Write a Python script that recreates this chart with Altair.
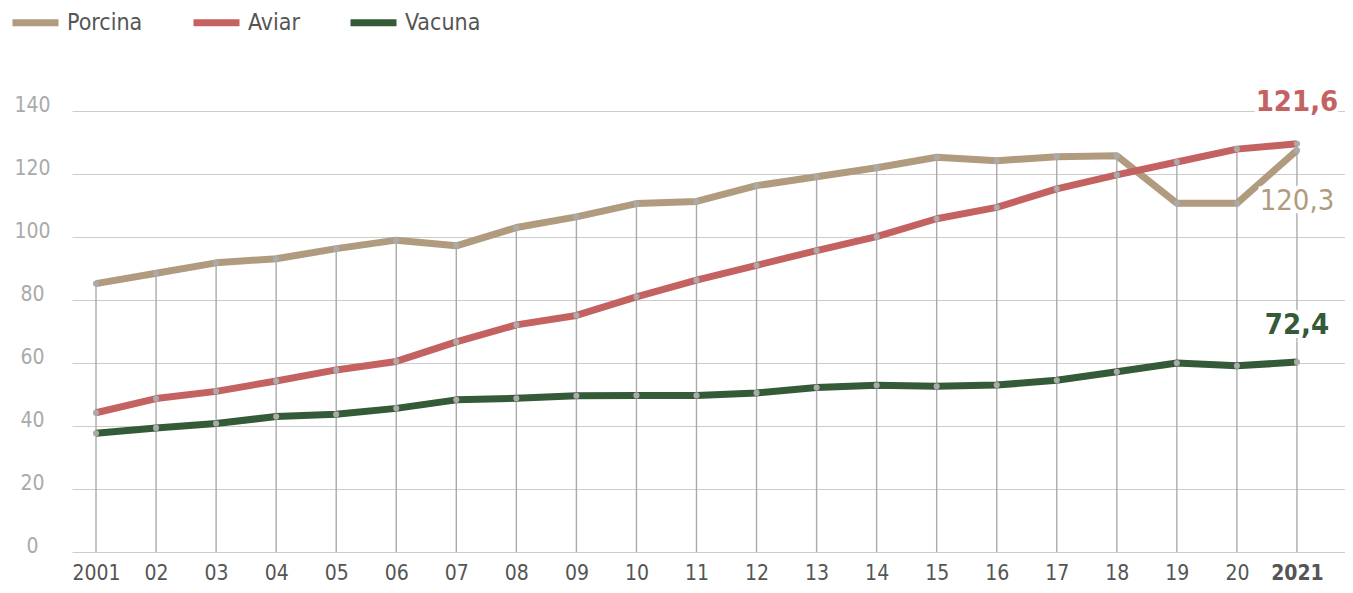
import altair as alt
import pandas as pd

years = list(range(2001, 2022))
year_labels = ["2001", "02", "03", "04", "05", "06", "07", "08", "09", "10",
               "11", "12", "13", "14", "15", "16", "17", "18", "19", "20", "2021"]
series = ["Porcina", "Aviar", "Vacuna"]
colors = ["#b09b7f", "#c46262", "#345a37"]

porcina = [85.2, 88.5, 91.8, 93.1, 96.3, 99.0, 97.2, 103.0, 106.4, 110.6, 111.3,
           116.3, 119.1, 122.0, 125.3, 124.2, 125.5, 125.8, 110.7, 110.7, 127.5]
aviar = [44.2, 48.7, 51.0, 54.3, 57.8, 60.5, 66.7, 72.1, 75.1, 81.0, 86.3,
         91.0, 95.7, 100.1, 105.8, 109.4, 115.3, 119.7, 123.8, 127.9, 129.6]
vacuna = [37.7, 39.4, 40.8, 43.0, 43.7, 45.6, 48.3, 48.8, 49.6, 49.7, 49.7,
          50.5, 52.2, 52.9, 52.6, 53.0, 54.5, 57.2, 60.0, 59.1, 60.3]

ann_text = ["121,6", "120,3", "72,4"]
ann_serie = ["Aviar", "Porcina", "Vacuna"]
ann_y = [143.0, 111.4, 72.2]
ann_bold = [True, False, True]

FONT = "DejaVu Sans Condensed, Noto Sans, sans-serif"

rows = []
for name, vals in zip(series, [porcina, aviar, vacuna]):
    for y, v in zip(years, vals):
        rows.append({"year": y, "serie": name, "valor": v})
df = pd.DataFrame(rows)

df_top = pd.DataFrame({"year": years,
                       "top": [max(a, b, c) for a, b, c in zip(porcina, aviar, vacuna)]})

df_ann = pd.DataFrame({"year": [years[-1]] * 3, "valor": ann_y, "texto": ann_text,
                       "serie": ann_serie, "bold": ann_bold})

label_expr = "[" + ",".join("'%s'" % s for s in year_labels) + "][datum.value - 2001]"

x_scale = alt.Scale(domain=[2000.6, 2021.8], nice=False, zero=False)
y_scale = alt.Scale(domain=[0, 140], nice=False)
color_scale = alt.Scale(domain=series, range=colors)

x_enc = alt.X("year:Q", scale=x_scale, title=None,
              axis=alt.Axis(values=years, labelExpr=label_expr, grid=False, domain=False,
                            ticks=False, labelFont=FONT, labelFontSize=21,
                            labelColor="#555555", labelPadding=10,
                            labelFontWeight={"condition": {"test": "datum.value == 2021", "value": "bold"},
                                             "value": "normal"}))

base = alt.Chart(df)

rules = alt.Chart(df_top).mark_rule(color="#aaaaaa", strokeWidth=1.4).encode(
    x=x_enc,
    y=alt.Y("top:Q", scale=y_scale, title=None,
            axis=alt.Axis(values=list(range(0, 141, 20)), grid=True, gridColor="#cccccc",
                          gridWidth=1, domain=False, ticks=False, labelFont=FONT,
                          labelFontSize=21, labelColor="#aaaaaa", labelAlign="center",
                          labelPadding=40, labelBaseline="alphabetic")),
    y2=alt.datum(0),
)

lines = base.mark_line(strokeWidth=7, strokeJoin="round").encode(
    x=alt.X("year:Q", scale=x_scale),
    y=alt.Y("valor:Q", scale=y_scale),
    color=alt.Color("serie:N", scale=color_scale, sort=series, title=None,
                    legend=alt.Legend(orient="none", legendX=-63, legendY=-115,
                                      direction="horizontal", symbolType="stroke",
                                      symbolSize=2116, symbolStrokeWidth=7,
                                      labelFont=FONT, labelFontSize=23,
                                      labelColor="#555555", labelOffset=5,
                                      columnPadding=36, padding=0)),
    order="year:Q",
)

points = base.mark_circle(size=38, color="#aaaaaa", opacity=1).encode(
    x=alt.X("year:Q", scale=x_scale),
    y=alt.Y("valor:Q", scale=y_scale),
)


def ann_layer(bold, halo):
    kw = dict(fontSize=29, font=FONT, align="center", baseline="middle",
              fontWeight="bold" if bold else "normal")
    if halo:
        kw.update(stroke="white", strokeWidth=8, fill="white")
    enc = dict(x=alt.X("year:Q", scale=x_scale),
               y=alt.Y("valor:Q", scale=y_scale),
               text="texto:N")
    if not halo:
        enc["color"] = alt.Color("serie:N", scale=color_scale, legend=None)
    test = "datum.bold" if bold else "!datum.bold"
    return alt.Chart(df_ann).mark_text(**kw).encode(**enc).transform_filter(test)


chart = alt.layer(rules, lines, points,
                  ann_layer(True, True), ann_layer(False, True),
                  ann_layer(True, False), ann_layer(False, False)).properties(
    width=1273, height=441,
    padding={"left": 64, "top": 103, "right": 0, "bottom": 33},
    autosize=alt.AutoSizeParams(type="none"),
).configure_view(stroke=None)

chart.save("out.html", embed_options={"renderer": "svg", "actions": False})
